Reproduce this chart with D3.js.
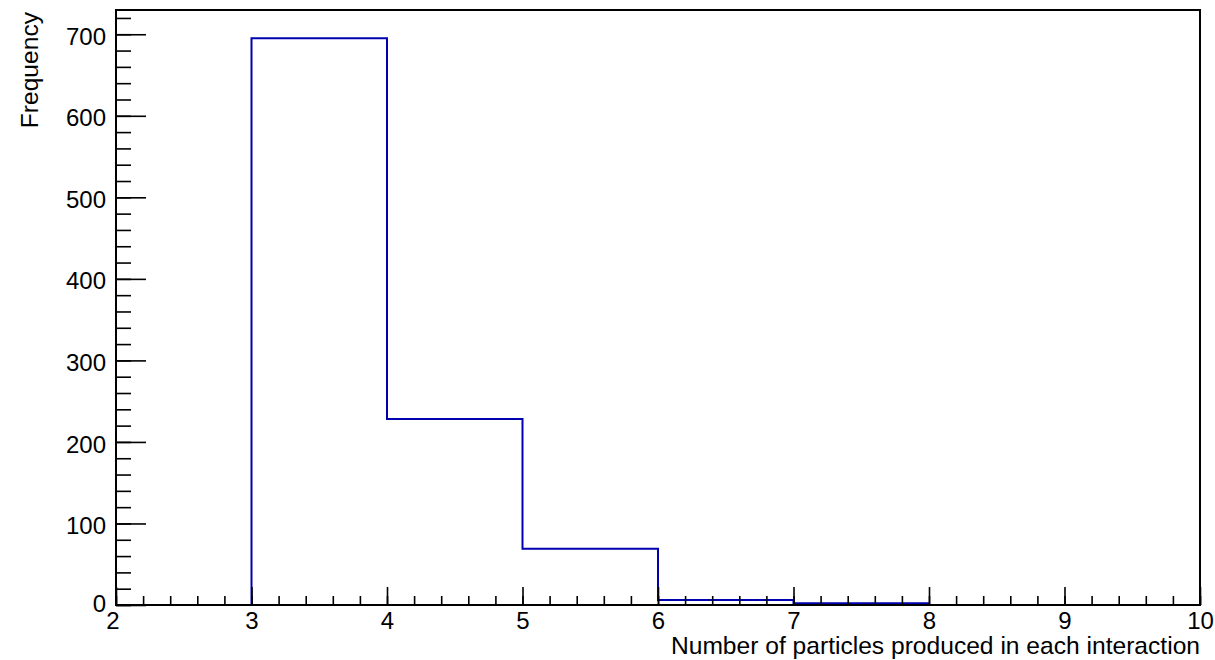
<!DOCTYPE html>
<html>
  <head>
    <meta charset="utf-8">
    <script src="https://d3js.org/d3.v7.min.js"></script>
    <title>Histogram</title>
    <style>
      body {
        margin: 0px;
        background: #fff;
      }
      .domain {
        display: none;
      }
      .tick line {
        stroke: #000;
        stroke-width: 1.6px;
      }
      .tick text {
        fill: #000;
        font-size: 24px;
        font-family: 'Liberation Sans', Arial, sans-serif;
      }
      .axis-label {
        fill: #000;
        font-size: 24.6px;
        font-family: 'Liberation Sans', Arial, sans-serif;
      }
    </style>
  </head>
  <body>
    <svg width="1215" height="660"></svg>
    <script>
      // bin lower edges and counts
      const binLows = [2, 3, 4, 5, 6, 7, 8, 9];
      const counts = [0, 695, 228, 69, 6, 2, 0, 0];
      const xRange = [2, 10];
      const xTicks = [2, 3, 4, 5, 6, 7, 8, 9, 10];
      const yTicks = [0, 100, 200, 300, 400, 500, 600, 700];
      const xTitle = 'Number of particles produced in each interaction';
      const yTitle = 'Frequency';

      const frame = { left: 116, right: 1200, top: 10, bottom: 605 };

      const svg = d3.select('svg');

      const xScale = d3.scaleLinear()
        .domain(xRange)
        .range([frame.left, frame.right]);
      const yScale = d3.scaleLinear()
        .domain([0, d3.max(counts) * 1.05])
        .range([frame.bottom, frame.top]);

      // histogram outline as a step line
      const pts = binLows.map((x, i) => [x, counts[i]]);
      pts.push([xRange[1], counts[counts.length - 1]]);

      const line = d3.line()
        .x(d => xScale(d[0]))
        .y(d => yScale(d[1]))
        .curve(d3.curveStepAfter);

      svg.append('path')
          .datum(pts)
          .attr('d', line)
          .attr('fill', 'none')
          .attr('stroke', '#0000b0')
          .attr('stroke-width', 2);

      // minor ticks
      const xMinor = d3.range(xRange[0], xRange[1] + 0.001, 0.2).map(v => +v.toFixed(1));
      const yMinor = d3.range(0, yScale.domain()[1], 20);

      svg.append('g')
          .attr('transform', `translate(0,${frame.bottom})`)
          .call(d3.axisBottom(xScale).tickValues(xMinor).tickSize(-9).tickFormat(''));
      svg.append('g')
          .attr('transform', `translate(${frame.left},0)`)
          .call(d3.axisLeft(yScale).tickValues(yMinor).tickSize(-15).tickFormat(''));

      // major ticks
      const xAxisG = svg.append('g')
          .attr('transform', `translate(0,${frame.bottom})`)
          .call(d3.axisBottom(xScale).tickValues(xTicks).tickSize(-18).tickPadding(7).tickFormat(d3.format('d')));
      xAxisG.selectAll('.tick text').filter(d => d === xRange[0]).attr('dx', '-0.15em');

      const yAxisG = svg.append('g')
          .attr('transform', `translate(${frame.left},0)`)
          .call(d3.axisLeft(yScale).tickValues(yTicks).tickSize(-30).tickPadding(10).tickFormat(d3.format('d')));
      yAxisG.selectAll('.tick text').attr('dy', '0.42em');
      yAxisG.selectAll('.tick text').filter(d => d === 0).attr('dy', '0.25em');

      // frame
      svg.append('rect')
          .attr('x', frame.left)
          .attr('y', frame.top)
          .attr('width', frame.right - frame.left)
          .attr('height', frame.bottom - frame.top)
          .attr('fill', 'none')
          .attr('stroke', '#000')
          .attr('stroke-width', 2);

      svg.append('text')
          .attr('class', 'axis-label')
          .attr('x', frame.right)
          .attr('y', 654)
          .attr('text-anchor', 'end')
          .text(xTitle);

      svg.append('text')
          .attr('class', 'axis-label')
          .attr('transform', `translate(38,${frame.top + 2}) rotate(-90)`)
          .attr('text-anchor', 'end')
          .text(yTitle);
    </script>
  </body>
</html>
